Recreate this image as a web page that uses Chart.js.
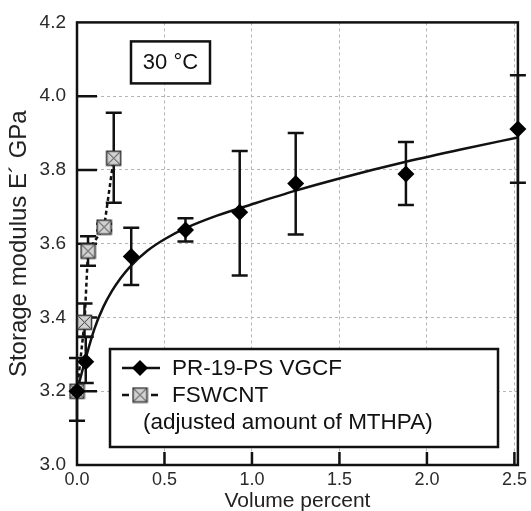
<!DOCTYPE html>
<html>
<head>
<meta charset="utf-8">
<script src="https://cdn.jsdelivr.net/npm/chart.js@4.4.0/dist/chart.umd.min.js"></script>
<style>
  html, body { margin: 0; padding: 0; background: #fff; overflow: hidden; }
  #wrap { width: 531px; height: 520px; }
</style>
</head>
<body>
<div id="wrap"><canvas id="chart"></canvas></div>
<script>
// values (storage modulus at 30 °C)
const vgcfX = [0, 0.05, 0.31, 0.62, 0.93, 1.25, 1.88, 2.52];
const vgcfY = [3.20, 3.28, 3.565, 3.637, 3.685, 3.763, 3.789, 3.911];
const vgcfLow = [3.12, 3.222, 3.488, 3.606, 3.514, 3.625, 3.705, 3.765];
const vgcfHigh = [3.29, 3.348, 3.643, 3.669, 3.851, 3.90, 3.876, 4.057];

const fswX = [0, 0.043, 0.063, 0.155, 0.21];
const fswY = [3.20, 3.387, 3.58, 3.645, 3.832];
const fswLow = [null, 3.347, 3.54, 3.636, 3.711];
const fswHigh = [null, 3.438, 3.62, 3.654, 3.955];

// fitted curve for the VGCF series
const fitX = [0, 0.05, 0.10, 0.15, 0.20, 0.25, 0.30, 0.40, 0.50, 0.63, 0.80, 1.00, 1.25, 1.50, 1.88, 2.20, 2.52];
const fitY = [3.20, 3.29, 3.37, 3.428, 3.472, 3.507, 3.536, 3.58, 3.612, 3.644, 3.676, 3.707, 3.744, 3.777, 3.822, 3.856, 3.888];

const xTicks = [0, 0.5, 1.0, 1.5, 2.0, 2.5];
const yTicks = [3.0, 3.2, 3.4, 3.6, 3.8, 4.0, 4.2];
const legendLines = ['PR-19-PS VGCF', 'FSWCNT', '(adjusted amount of MTHPA)'];
const tempLabel = '30 °C';

const FONT = "'Liberation Sans', Arial, sans-serif";
const pts = (xs, ys) => xs.map((v, i) => ({ x: v, y: ys[i] }));

// crossed grey box marker used for FSWCNT
const crossBox = (() => {
  const c = document.createElement('canvas');
  c.width = 17; c.height = 17;
  const g = c.getContext('2d');
  g.fillStyle = '#d2d2d2';
  g.fillRect(1, 1, 15, 15);
  g.strokeStyle = '#333';
  g.lineWidth = 1.5;
  g.strokeRect(1.5, 1.5, 14, 14);
  g.lineWidth = 1;
  g.beginPath();
  g.moveTo(2.5, 2.5); g.lineTo(14.5, 14.5);
  g.moveTo(14.5, 2.5); g.lineTo(2.5, 14.5);
  g.stroke();
  return c;
})();

// box frame + inward tick marks
const frame = {
  id: 'frame',
  beforeDatasetsDraw(chart) {
    const { ctx, chartArea: a, scales: { x, y } } = chart;
    ctx.save();
    ctx.strokeStyle = '#111';
    ctx.lineWidth = 2.5;
    ctx.strokeRect(a.left, a.top, a.right - a.left, a.bottom - a.top);
    ctx.beginPath();
    yTicks.slice(1, -1).forEach(v => {
      const py = y.getPixelForValue(v);
      ctx.moveTo(a.left, py); ctx.lineTo(a.left + 20, py);
    });
    xTicks.slice(1).forEach(v => {
      const px = x.getPixelForValue(v);
      ctx.moveTo(px, a.bottom); ctx.lineTo(px, a.bottom - 13);
    });
    ctx.stroke();
    ctx.restore();
  }
};

const errorBars = {
  id: 'errorBars',
  beforeDatasetsDraw(chart) {
    const { ctx, scales: { x, y } } = chart;
    ctx.save();
    ctx.strokeStyle = '#111';
    ctx.lineWidth = 2.5;
    [[vgcfX, vgcfLow, vgcfHigh], [fswX, fswLow, fswHigh]].forEach(([xs, lo, hi]) => {
      xs.forEach((v, i) => {
        if (lo[i] == null) return;
        const px = x.getPixelForValue(v);
        const y1 = y.getPixelForValue(lo[i]);
        const y2 = y.getPixelForValue(hi[i]);
        ctx.beginPath();
        ctx.moveTo(px, y1); ctx.lineTo(px, y2);
        ctx.moveTo(px - 8, y1); ctx.lineTo(px + 8, y1);
        ctx.moveTo(px - 8, y2); ctx.lineTo(px + 8, y2);
        ctx.stroke();
      });
    });
    ctx.restore();
  }
};

// temperature box and the boxed legend inside the plot
const annotations = {
  id: 'annotations',
  afterDatasetsDraw(chart) {
    const { ctx, chartArea: a } = chart;
    ctx.save();
    ctx.lineWidth = 2.5;
    ctx.strokeStyle = '#111';

    const tx = a.left + 54, ty = a.top + 19;
    ctx.fillStyle = '#fff';
    ctx.fillRect(tx, ty, 79, 42);
    ctx.strokeRect(tx, ty, 79, 42);
    ctx.fillStyle = '#111';
    ctx.font = '22px ' + FONT;
    ctx.textAlign = 'center';
    ctx.textBaseline = 'middle';
    ctx.fillText(tempLabel, tx + 39.5, ty + 22);

    const lx = a.left + 33, ly = a.bottom - 116;
    ctx.fillStyle = '#fff';
    ctx.fillRect(lx, ly, 388, 98);
    ctx.strokeRect(lx, ly, 388, 98);

    // row 1: solid line with diamond
    const r1 = ly + 19;
    ctx.beginPath();
    ctx.moveTo(lx + 12, r1); ctx.lineTo(lx + 50, r1);
    ctx.stroke();
    ctx.fillStyle = '#000';
    ctx.beginPath();
    ctx.moveTo(lx + 22, r1); ctx.lineTo(lx + 30, r1 - 8);
    ctx.lineTo(lx + 38, r1); ctx.lineTo(lx + 30, r1 + 8);
    ctx.closePath();
    ctx.fill();

    // row 2: dashes with crossed box
    const r2 = ly + 46;
    ctx.beginPath();
    ctx.moveTo(lx + 12, r2); ctx.lineTo(lx + 19, r2);
    ctx.moveTo(lx + 41, r2); ctx.lineTo(lx + 48, r2);
    ctx.stroke();
    ctx.drawImage(crossBox, lx + 30 - 8.5, r2 - 8.5);

    ctx.fillStyle = '#111';
    ctx.font = '22.5px ' + FONT;
    ctx.textAlign = 'left';
    ctx.fillText(legendLines[0], lx + 62, r1 + 1);
    ctx.fillText(legendLines[1], lx + 62, r2 + 1);
    ctx.fillText(legendLines[2], lx + 33, ly + 74);
    ctx.restore();
  }
};

new Chart(document.getElementById('chart'), {
  type: 'scatter',
  data: {
    datasets: [
      {
        label: legendLines[0],
        data: pts(vgcfX, vgcfY),
        pointStyle: 'rectRot',
        pointRadius: 8.5,
        backgroundColor: '#000',
        borderColor: '#000',
        borderWidth: 0,
        clip: false
      },
      {
        label: legendLines[1],
        data: pts(fswX, fswY),
        showLine: true,
        borderColor: '#111',
        borderWidth: 2.5,
        borderDash: [4, 3],
        pointStyle: crossBox,
        pointRadius: 8,
        clip: false
      },
      {
        label: 'fit',
        data: pts(fitX, fitY),
        showLine: true,
        borderColor: '#111',
        borderWidth: 2.5,
        pointRadius: 0,
        cubicInterpolationMode: 'monotone',
        clip: false
      }
    ]
  },
  options: {
    responsive: true,
    maintainAspectRatio: false,
    animation: false,
    events: [],
    layout: { padding: { top: 21, right: 11, left: 0, bottom: 0 } },
    plugins: {
      legend: { display: false },
      tooltip: { enabled: false }
    },
    scales: {
      x: {
        type: 'linear',
        min: 0,
        max: 2.52,
        afterBuildTicks: s => { s.ticks = xTicks.map(v => ({ value: v })); },
        afterFit: s => { s.height = 55; },
        grid: { color: '#b5b5b5', lineWidth: 1, drawTicks: false },
        border: { display: false, dash: [3, 3] },
        ticks: {
          padding: 4,
          color: '#2a2a2a',
          font: { size: 18, family: FONT },
          maxRotation: 0,
          autoSkip: false,
          callback: v => v.toFixed(1)
        },
        title: {
          display: true,
          text: 'Volume percent',
          color: '#222',
          font: { size: 21, family: FONT },
          padding: { top: 0, bottom: 6 }
        }
      },
      y: {
        min: 3.0,
        max: 4.2,
        afterBuildTicks: s => { s.ticks = yTicks.map(v => ({ value: v })); },
        afterFit: s => { s.width = 77; },
        grid: { color: '#b5b5b5', lineWidth: 1, drawTicks: false },
        border: { display: false, dash: [3, 3] },
        ticks: {
          padding: 11,
          color: '#2a2a2a',
          font: { size: 19, family: FONT },
          callback: v => v.toFixed(1)
        },
        title: {
          display: true,
          text: 'Storage modulus E´ GPa',
          color: '#222',
          font: { size: 24, family: FONT },
          padding: { top: 5, bottom: 0 }
        }
      }
    }
  },
  plugins: [frame, errorBars, annotations]
});
</script>
</body>
</html>
